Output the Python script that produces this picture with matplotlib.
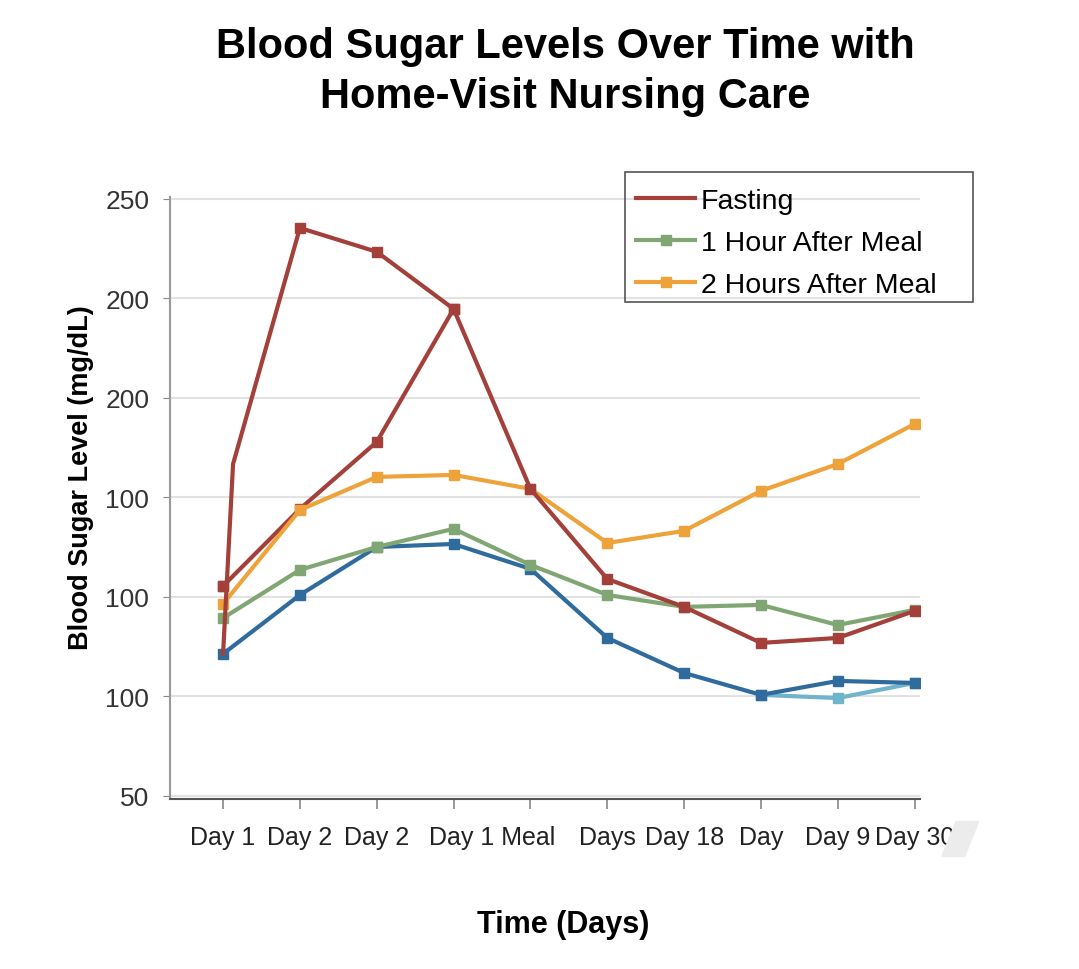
import matplotlib.pyplot as plt
from matplotlib.patches import Polygon, Rectangle

plt.rcParams['font.family'] = ['Liberation Sans', 'DejaVu Sans']

# categories (x positions 0..9)
days = [0, 1, 2, 3, 4, 5, 6, 7, 8, 9]
day_labels = ['Day 1', 'Day 2', 'Day 2', '', '', 'Days', 'Day 18', 'Day', 'Day 9', 'Day 30']

# y axis: evenly spaced ticks with the labels as printed on the chart
y_ticks = [50, 100, 150, 200, 250, 300, 350]
y_labels = ['50', '100', '100', '100', '200', '200', '250']

# fasting: main line (with the early spike) and the second branch
fasting_x = [0, 0.13, 1, 2, 3, 4, 5, 6, 7, 8, 9]
fasting_y = [121.4, 216.8, 335.4, 323.4, 294.7, 204.3, 159.0, 145.0, 126.9, 129.4, 143.0]
fasting_mk = [2, 3, 4, 5, 6, 7, 8, 9, 10]
fasting2_x = [0, 1, 2, 3]
fasting2_y = [155.5, 194.2, 227.9, 294.7]

one_hour = [139.4, 163.6, 175.1, 184.2, 166.1, 151.0, 145.0, 146.0, 135.9, 143.5]
two_hours = [146.5, 193.7, 210.3, 211.3, 204.3, 177.1, 183.2, 203.3, 216.8, 236.9]
blue = [121.4, 151.0, 175.1, 176.6, 164.1, 129.4, 111.8, 100.8, 107.8, 106.8]
light_x = [7, 8, 9]
light_y = [100.8, 99.2, 106.8]

red = '#a4403a'
green = '#7fa673'
orange = '#eea23a'
dblue = '#2f6b9c'
lblue = '#6fb4c9'

fig = plt.figure(figsize=(10.79, 9.70), dpi=100)
ax = fig.add_axes([0.1576, 0.1753, 0.6951, 0.6207])

lw = 3
ms = 7.5
ax.plot(light_x, light_y, color=lblue, lw=lw, marker='s', ms=ms, zorder=2)
ax.plot(days, blue, color=dblue, lw=lw, marker='s', ms=ms, zorder=3)
ax.plot(days, one_hour, color=green, lw=lw, marker='s', ms=ms, zorder=4,
        label='1 Hour After Meal')
ax.plot(fasting2_x, fasting2_y, color=red, lw=lw, marker='s', ms=ms, zorder=5)
ax.plot(days, two_hours, color=orange, lw=lw, marker='s', ms=ms, zorder=6,
        label='2 Hours After Meal')
ax.plot(fasting_x, fasting_y, color=red, lw=lw, zorder=7, label='Fasting')
ax.plot([fasting_x[i] for i in fasting_mk], [fasting_y[i] for i in fasting_mk],
        color=red, lw=0, marker='s', ms=ms, zorder=7)
ax.plot([0], [fasting2_y[0]], color=red, lw=0, marker='s', ms=ms, zorder=7)

ax.set_xlim(-0.69, 9.07)
ax.set_ylim(48.5, 351)
ax.set_xticks(days)
ax.set_xticklabels(day_labels, fontsize=18, color='#222222')
ax.set_xticks([3.5], minor=True)
ax.set_xticklabels(['Day 1 Meal'], minor=True, fontsize=18, color='#222222')
ax.tick_params(axis='x', which='minor', length=0, pad=19)
ax.tick_params(axis='x', which='major', length=7, width=1.2, color='#888888', pad=12)
ax.set_yticks(y_ticks)
ax.set_yticklabels(y_labels, fontsize=19, color='#333333')
ax.tick_params(axis='y', length=5, color='#888888', pad=10)
ax.grid(axis='y', color='#e2e2e2', lw=1.5)
ax.set_axisbelow(True)
for s in ['top', 'right']:
    ax.spines[s].set_visible(False)
ax.spines['left'].set_color('#999999')
ax.spines['left'].set_linewidth(1.5)
ax.spines['bottom'].set_color('#555555')
ax.spines['bottom'].set_linewidth(1.5)

ax.set_ylabel('Blood Sugar Level (mg/dL)', fontsize=19.5, fontweight='bold')
ax.yaxis.set_label_coords(-0.101, 0.535)
ax.set_xlabel('Time (Days)', fontsize=22, fontweight='bold')
ax.xaxis.set_label_coords(0.524, -0.183)

# legend: entries without frame, box drawn separately (wide right margin)
h, l = ax.get_legend_handles_labels()
order = [l.index('Fasting'), l.index('1 Hour After Meal'), l.index('2 Hours After Meal')]
leg = fig.legend([h[i] for i in order], [l[i] for i in order],
                 loc='upper left', bbox_to_anchor=(0.5746, 0.8216), borderaxespad=0,
                 fontsize=20.5, frameon=False,
                 handlelength=2.1, handletextpad=0.18, borderpad=0.55, labelspacing=0.56)
fig.add_artist(Rectangle((0.5792, 0.6876), 0.3225, 0.134, transform=fig.transFigure,
                         fill=False, edgecolor='#555555', lw=1.2))

fig.suptitle('Blood Sugar Levels Over Time with\nHome-Visit Nursing Care',
             fontsize=30, fontweight='bold', x=0.5236, y=0.972, linespacing=1.33)

fig.add_artist(Polygon([(0.886, 0.152), (0.907, 0.152), (0.894, 0.116), (0.873, 0.116)],
                       closed=True, transform=fig.transFigure, color='#ececec', zorder=10))

fig.savefig('out.png', dpi=100)
